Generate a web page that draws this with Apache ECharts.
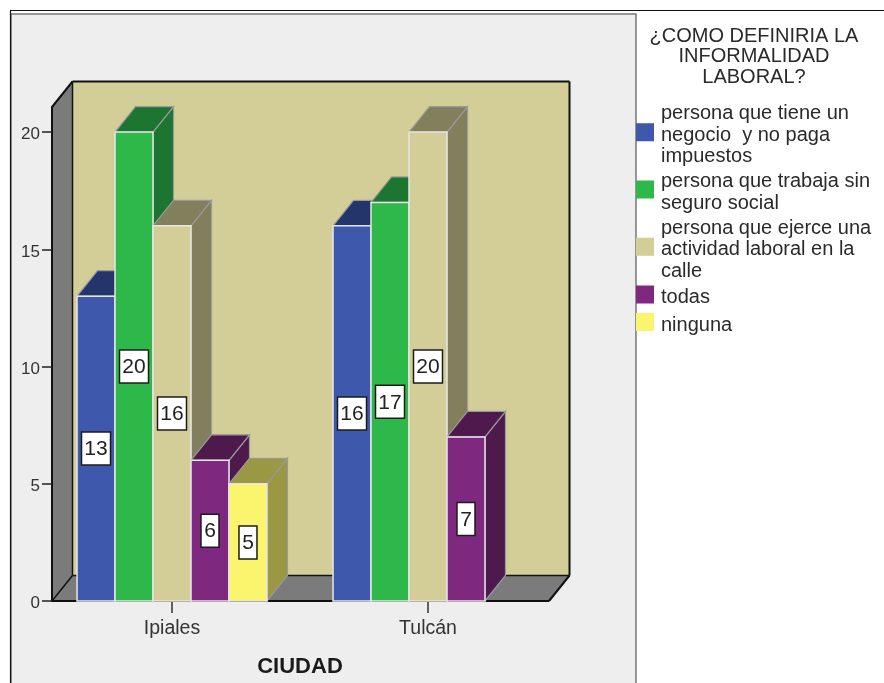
<!DOCTYPE html>
<html><head><meta charset="utf-8">
<style>html,body{margin:0;padding:0;background:#fff}#c{width:884px;height:683px}</style>
<script src="https://cdn.jsdelivr.net/npm/echarts@6/dist/echarts.min.js"></script>
</head><body><div id="c"></div>
<script>
const categories = ['Ipiales', 'Tulcán'];
const tickValues = [0, 5, 10, 15, 20];
const legendTitle = '¿COMO DEFINIRIA LA\nINFORMALIDAD\nLABORAL?';
const axisTitle = 'CIUDAD';
const yTop = 21.07;
const negocio = [13, 16];
const seguro = [20, 17];
const calle = [16, 20];
const todas = [6, 7];
const ninguna = [5, null];
const names = [
  'persona que tiene un\nnegocio  y no paga\nimpuestos',
  'persona que trabaja sin\nseguro social',
  'persona que ejerce una\nactividad laboral en la\ncalle',
  'todas',
  'ninguna'
];
const values = [negocio, seguro, calle, todas, ninguna];
const fronts = ['#3e58ac', '#2eb84a', '#d3ce97', '#7e287f', '#fbf56e'];
const darks = ['#24356b', '#1c7530', '#827f5d', '#4e1a4d', '#9a9745'];
const FONT = '"Liberation Sans", Arial, sans-serif';

const DX = 20.5, DY = 25.5, SLOT = 0.1484;

function poly(points, fill, stroke, lw) {
  return { type: 'polygon', shape: { points }, style: { fill, stroke: stroke || fill, lineWidth: lw || 0 } };
}
function line(a, b, w) {
  return { type: 'line', shape: { x1: a[0], y1: a[1], x2: b[0], y2: b[1] }, style: { stroke: '#111', lineWidth: w || 2 } };
}
function wallsItem(params, api) {
  const band = api.size([1, 0])[0];
  const l = api.coord([0, 0])[0] - band / 2 + 8;
  const r = api.coord([1, 0])[0] + band / 2 - 7;
  const y0 = api.coord([0, 0])[1], yt = api.coord([0, yTop])[1];
  const bl = [l + DX, y0 - DY], br = [r + DX, y0 - DY], tl = [l + DX, yt - DY], tr = [r + DX, yt - DY];
  return { type: 'group', children: [
    poly([tl, tr, br, bl], fronts[2]),
    poly([[l, yt], tl, bl, [l, y0]], '#7b7b7b'),
    poly([[l, y0], bl, br, [r, y0]], '#7b7b7b'),
    line(tl, tr), line(tr, br), line(bl, br, 1.5), line(tl, bl, 1.5),
    line([l, yt], tl), line([l, y0], bl, 1.5), line([r, y0], br),
    line([l, y0], [r, y0])
  ] };
}
function barItem(s) {
  return function (params, api) {
    const v = api.value(1);
    if (v == null || isNaN(v)) return null;
    const band = api.size([1, 0])[0], w = band * SLOT;
    const c = api.coord([api.value(0), v]), base = api.coord([api.value(0), 0]);
    const x = c[0] + (s - 2.5) * w, y = c[1], yb = base[1];
    const bw = String(v).length > 1 ? 29 : 18, bh = 33, mx = x + w / 2, my = (y + yb) / 2;
    return { type: 'group', children: [
      poly([[x + w, y], [x + w + DX, y - DY], [x + w + DX, yb - DY], [x + w, yb]], darks[s], '#9a9a9a', 1.2),
      poly([[x, y], [x + DX, y - DY], [x + w + DX, y - DY], [x + w, y]], darks[s], '#9a9a9a', 1.2),
      { type: 'rect', shape: { x, y, width: w, height: yb - y }, style: { fill: fronts[s], stroke: '#e6e6e6', lineWidth: 1.5 } },
      { type: 'rect', shape: { x: mx - bw / 2, y: my - bh / 2, width: bw, height: bh }, style: { fill: '#fff', stroke: '#1c1c1c', lineWidth: 1.5 } },
      { type: 'text', style: { text: String(v), x: mx, y: my + 1, align: 'center', verticalAlign: 'middle', fill: '#222', font: '21px ' + FONT } }
    ] };
  };
}

const series = [{
  type: 'custom', name: 'walls', coordinateSystem: 'cartesian2d', z: 1, silent: true,
  data: [[0, 0]], renderItem: wallsItem, clip: false
}];
names.forEach((n, s) => series.push({
  type: 'custom', name: n, coordinateSystem: 'cartesian2d', z: 2 + s, clip: false,
  itemStyle: { color: fronts[s] },
  encode: { x: 0, y: 1 },
  data: values[s].map((v, i) => [i, v]),
  renderItem: barItem(s)
}));

const chart = echarts.init(document.getElementById('c'), null, { renderer: 'canvas' });
chart.setOption({
  animation: false,
  backgroundColor: '#fff',
  textStyle: { fontFamily: FONT },
  grid: { left: 44, right: 328, top: 107, bottom: 82, outerBoundsMode: 'none' },
  title: {
    text: legendTitle, left: 749, top: 21, textAlign: 'center',
    textStyle: { fontSize: 20, fontWeight: 'normal', color: '#2a2a2a', lineHeight: 20.5, fontFamily: FONT }
  },
  legend: {
    orient: 'vertical', left: 636, top: 103, padding: 0, itemWidth: 18, itemHeight: 24, itemGap: 3.5,
    icon: 'path://M0,0H18V18H0Z M0,24H18', selectedMode: false, data: names, itemStyle: { borderWidth: 0 }, z: 6,
    textStyle: { fontSize: 20, lineHeight: 21.5, color: '#2a2a2a', fontFamily: FONT, padding: [0, 0, 0, 2] }
  },
  xAxis: {
    type: 'category', data: categories,
    name: axisTitle, nameLocation: 'middle', nameGap: 55,
    nameTextStyle: { fontSize: 22, fontWeight: 'bold', color: '#1a1a1a', fontFamily: FONT },
    axisLine: { show: false },
    axisTick: { show: true, alignWithLabel: true, length: 12, lineStyle: { color: '#333', width: 1.5 } },
    axisLabel: { fontSize: 19.5, color: '#333', margin: 18, fontFamily: FONT },
    splitLine: { show: false }
  },
  yAxis: {
    type: 'value', min: 0, max: yTop, offset: -8, z: 10,
    axisLine: { show: true, lineStyle: { color: '#111', width: 2 } },
    axisTick: { show: true, length: 10, customValues: tickValues, lineStyle: { color: '#222', width: 1.5 } },
    axisLabel: { fontSize: 17, color: '#333', margin: 12, verticalAlign: 'top', lineHeight: 5, customValues: tickValues, fontFamily: FONT },
    splitLine: { show: false }
  },
  graphic: { elements: [
    { type: 'rect', z: -10, silent: true, shape: { x: 11, y: 14, width: 625, height: 680 }, style: { fill: '#eeeeee', stroke: '#777', lineWidth: 1.5 } },
    { type: 'line', z: -9, silent: true, shape: { x1: 10.5, y1: 11, x2: 10.5, y2: 683 }, style: { stroke: '#111', lineWidth: 1.2 } },
    { type: 'line', z: -9, silent: true, shape: { x1: 10, y1: 10.5, x2: 884, y2: 10.5 }, style: { stroke: '#111', lineWidth: 1.2 } }
  ] },
  series
});
</script></body></html>
